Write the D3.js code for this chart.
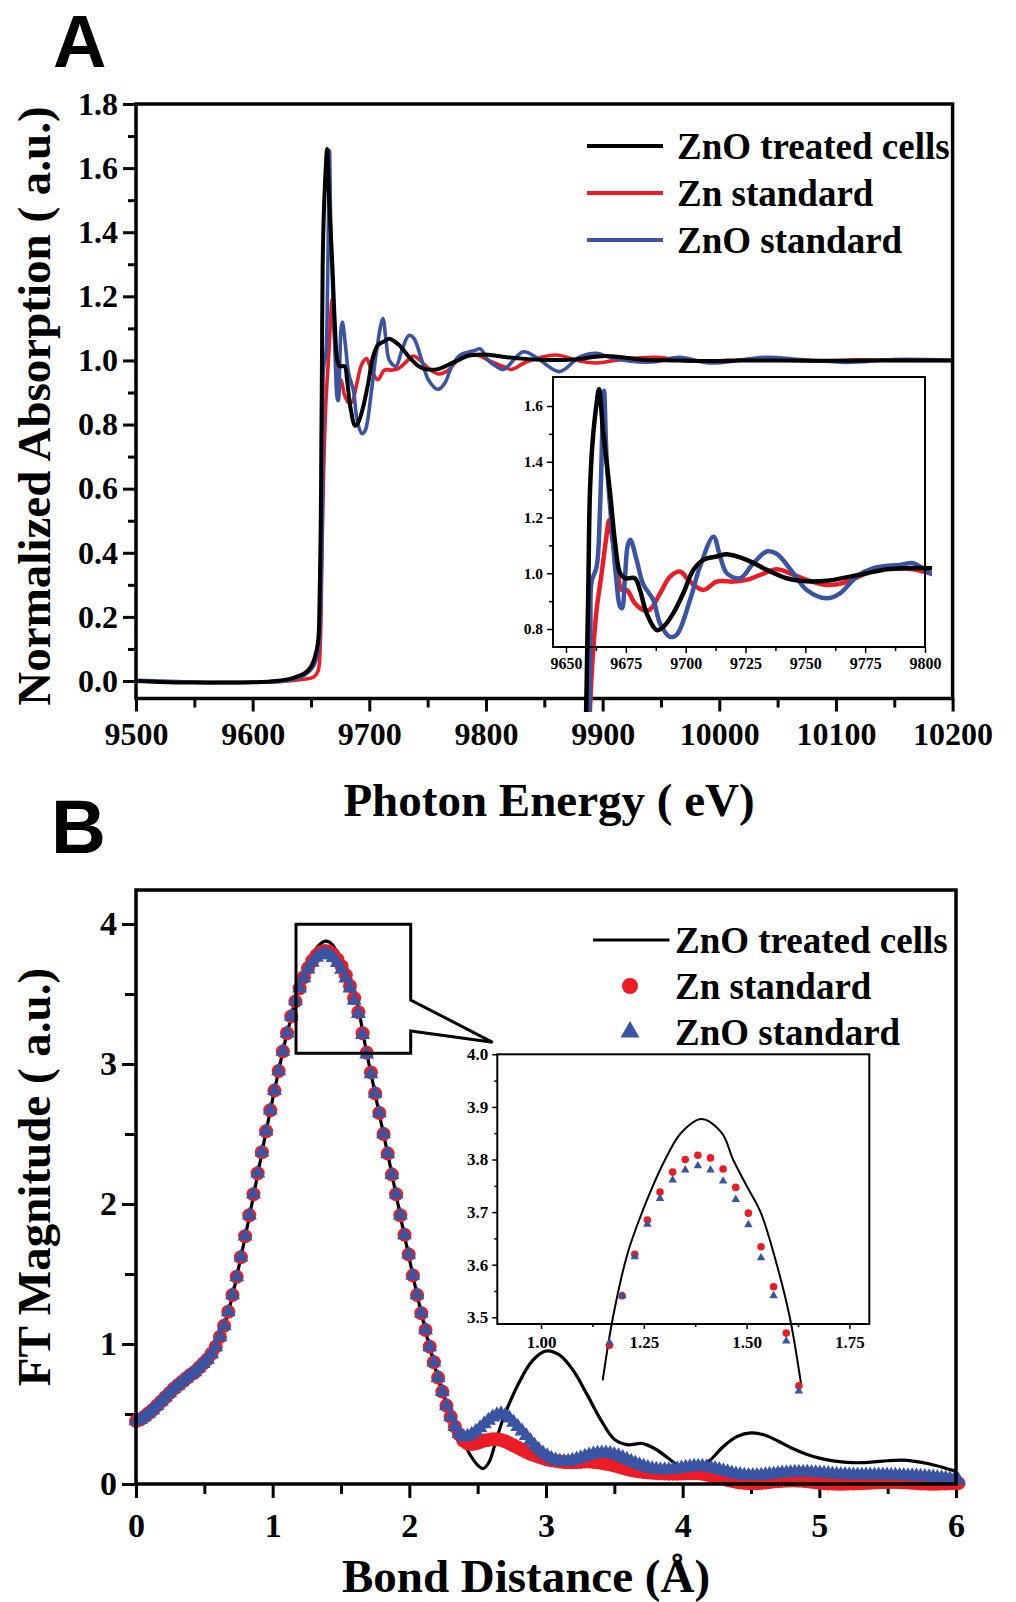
<!DOCTYPE html>
<html><head><meta charset="utf-8">
<script src="https://cdn.jsdelivr.net/npm/d3@7"></script>
<style>
body{margin:0;background:#fff}
svg{display:block}
</style>
</head><body>
<svg id="c" width="1016" height="1602"></svg>
<script>
// ---------------- DATA ----------------
const seriesNames = ["ZnO treated cells", "Zn standard", "ZnO standard"];
const seriesColors = ["#000000", "#ED1C24", "#3A54A4"];

// Panel A : normalized absorption vs photon energy (eV), [E, value]
const aBlack = [[9500,0],[9520,-0.003],[9550,-0.005],[9580,-0.005],[9600,-0.004],[9620,0],[9635,0.01],[9645,0.025],[9650,0.045],[9653,0.07],[9656,0.12],[9657.5,0.28],[9658.4,0.5],[9658.9,0.75],[9659.3,0.93],[9660,1.29],[9661.1,1.47],[9662.8,1.61],[9663.8,1.66],[9665.6,1.5],[9668.4,1.29],[9670.5,1.11],[9672.6,1.0],[9674.7,0.982],[9678.8,0.982],[9680.9,0.94],[9683.7,0.856],[9687.9,0.796],[9690.7,0.808],[9694.8,0.856],[9699,0.928],[9703.2,1.012],[9707.4,1.048],[9713,1.06],[9717.2,1.068],[9725.5,1.048],[9733.9,1.012],[9742.2,0.982],[9747.8,0.973],[9758.9,0.973],[9768.7,0.988],[9775.7,1.0],[9784,1.014],[9792.4,1.018],[9802,1.018],[9818,1.01],[9846,1.002],[9875,1.003],[9903,1.014],[9932,1.003],[9960,1.0],[9990,0.998],[10020,1.0],[10050,1.0],[10100,0.999],[10150,1.0],[10200,1.0]];
const aRed = [[9500,0],[9550,-0.004],[9600,-0.004],[9630,0],[9645,0.006],[9652,0.012],[9656,0.03],[9658,0.12],[9659.2,0.35],[9660,0.51],[9661.1,0.69],[9662.8,0.87],[9664.9,1.0],[9666.7,1.12],[9668,1.19],[9669.1,1.14],[9671.2,1.024],[9673.3,0.94],[9675.4,0.94],[9678.8,0.892],[9682.3,0.868],[9685.1,0.87],[9689.3,0.928],[9693.5,0.988],[9697.6,1.006],[9701.8,0.97],[9707.4,0.94],[9713,0.97],[9719.9,0.97],[9725.5,0.976],[9731.1,0.994],[9738,1.014],[9743.6,1.0],[9750.6,0.976],[9758.9,0.958],[9765.9,0.965],[9772.9,0.99],[9778.4,1.01],[9786.8,1.018],[9795.1,1.014],[9802,1.0],[9814.9,0.981],[9822,0.972],[9835,0.996],[9860,1.017],[9880,0.998],[9895,0.992],[9918,1.004],[9946,1.01],[9975,0.998],[10003,1.0],[10040,1.003],[10080,0.998],[10120,1.002],[10160,1.0],[10200,1.0]];
const aBlue = [[9500,0.002],[9550,-0.003],[9600,-0.004],[9630,0.002],[9645,0.02],[9652,0.045],[9656,0.09],[9658,0.2],[9659,0.35],[9659.7,0.5],[9660.2,0.8],[9660.7,0.97],[9662.8,1.024],[9664.2,1.227],[9665.3,1.55],[9665.9,1.655],[9667,1.407],[9669.1,1.167],[9670.9,0.988],[9672.6,0.88],[9673.4,0.875],[9674.6,0.98],[9675.8,1.1],[9676.9,1.12],[9679.5,1.048],[9682.3,0.96],[9686.5,0.904],[9689.3,0.82],[9693.5,0.772],[9696.3,0.78],[9701.8,0.904],[9706,1.024],[9711.6,1.131],[9714.4,1.06],[9717.2,1.0],[9722.7,0.982],[9728.3,1.036],[9733.9,1.078],[9738,1.07],[9745,1.0],[9750.6,0.94],[9758.9,0.91],[9764.5,0.928],[9771.5,0.988],[9778.4,1.018],[9789.6,1.03],[9795.1,1.036],[9802.1,1.0],[9809,0.981],[9815,0.972],[9832,1.027],[9843,1.01],[9863,0.965],[9880,1.01],[9895,1.022],[9909,1.006],[9943,0.995],[9966,1.01],[9992,0.992],[10040,1.01],[10070,1.003],[10110,0.994],[10150,1.003],[10200,1.0]];

const aXTicks = [9500, 9600, 9700, 9800, 9900, 10000, 10100, 10200];
const aYTicks = [0, 0.2, 0.4, 0.6, 0.8, 1.0, 1.2, 1.4, 1.6, 1.8];
const aInsetXTicks = [9650, 9675, 9700, 9725, 9750, 9775, 9800];
const aInsetYTicks = [0.8, 1.0, 1.2, 1.4, 1.6];

// Panel B : FT magnitude vs bond distance (Å)
const bStep = 0.0307; // marker grid spacing in Å (point i sits at i*bStep)
const bRed = [
0.45,0.46,0.48,0.505,0.53,0.56,0.59,0.62,0.65,0.68,
0.705,0.73,0.755,0.78,0.80,0.83,0.86,0.89,0.93,0.98,
1.05,1.13,1.23,1.35,1.48,1.62,1.77,1.92,2.07,2.22,
2.37,2.52,2.67,2.81,2.95,3.09,3.22,3.34,3.447,3.541,
3.620,3.685,3.738,3.776,3.800,3.808,3.803,3.782,3.747,3.698,
3.634,3.558,3.470,3.370,3.22,3.08,2.94,2.79,2.65,2.50,
2.36,2.21,2.07,1.92,1.78,1.64,1.49,1.35,1.22,1.10,
0.98,0.87,0.76,0.66,0.56,0.48,0.41,0.355,0.31,0.29,
0.285,0.29,0.30,0.31,0.315,0.32,0.32,0.315,0.305,0.29,
0.275,0.26,0.245,0.23,0.215,0.205,0.195,0.185,0.175,0.17,
0.165,0.16,0.157,0.155,0.155,0.156,0.158,0.16,0.16,0.158,
0.155,0.15,0.145,0.14,0.132,0.124,0.115,0.107,0.10,0.094,
0.089,0.085,0.082,0.08,0.078,0.076,0.075,0.074,0.074,0.074,
0.075,0.076,0.077,0.077,0.076,0.073,0.068,0.061,0.053,0.045,
0.037,0.029,0.022,0.016,0.011,0.008,0.006,0.005,0.006,0.008,
0.011,0.014,0.017,0.02,0.022,0.024,0.025,0.025,0.024,0.022,
0.019,0.016,0.012,0.009,0.006,0.004,0.003,0.002,0.002,0.002,
0.003,0.004,0.005,0.006,0.008,0.009,0.011,0.012,0.013,0.014,
0.014,0.014,0.013,0.012,0.01,0.008,0.006,0.004,0.003,0.002,
0.002,0.002,0.003,0.004,0.005,0.006,0.006];
const bBlue = [
0.45,0.46,0.48,0.505,0.53,0.56,0.59,0.62,0.65,0.68,
0.705,0.73,0.755,0.78,0.80,0.83,0.86,0.89,0.93,0.98,
1.05,1.13,1.23,1.35,1.48,1.62,1.77,1.92,2.07,2.22,
2.37,2.52,2.67,2.81,2.95,3.09,3.22,3.34,3.452,3.541,
3.615,3.677,3.726,3.761,3.780,3.788,3.780,3.759,3.724,3.676,
3.613,3.541,3.455,3.36,3.21,3.07,2.93,2.79,2.65,2.50,
2.36,2.21,2.07,1.92,1.78,1.64,1.49,1.35,1.22,1.10,
0.98,0.87,0.76,0.66,0.56,0.48,0.41,0.36,0.335,0.34,
0.355,0.375,0.40,0.43,0.455,0.478,0.493,0.50,0.49,0.47,
0.44,0.41,0.378,0.345,0.31,0.275,0.245,0.22,0.20,0.183,
0.17,0.162,0.16,0.162,0.168,0.177,0.187,0.197,0.206,0.213,
0.218,0.22,0.22,0.217,0.21,0.2,0.188,0.175,0.162,0.149,
0.137,0.126,0.117,0.109,0.104,0.101,0.1,0.101,0.104,0.108,
0.113,0.118,0.122,0.125,0.126,0.125,0.122,0.117,0.11,0.102,
0.094,0.086,0.078,0.071,0.066,0.062,0.06,0.059,0.06,0.062,
0.065,0.068,0.071,0.074,0.077,0.079,0.081,0.082,0.083,0.083,
0.082,0.081,0.079,0.077,0.075,0.073,0.071,0.069,0.067,0.066,
0.065,0.064,0.064,0.064,0.064,0.064,0.064,0.064,0.064,0.063,
0.062,0.061,0.06,0.059,0.058,0.057,0.056,0.055,0.053,0.051,
0.049,0.046,0.043,0.04,0.036,0.032,0.028];
const bBlack = [[0,0.45],[0.1,0.5],[0.2,0.61],[0.3,0.7],[0.4,0.78],[0.5,0.86],[0.55,0.92],[0.6,1.01],[0.65,1.14],[0.7,1.32],[0.75,1.54],[0.8,1.77],[0.85,2.01],[0.9,2.26],[0.95,2.51],[1.0,2.75],[1.05,2.98],[1.1,3.2],[1.15,3.38],[1.175,3.5],[1.21,3.62],[1.246,3.7],[1.275,3.755],[1.302,3.8],[1.34,3.85],[1.39,3.877],[1.44,3.85],[1.467,3.8],[1.5,3.75],[1.534,3.7],[1.57,3.61],[1.605,3.5],[1.633,3.37],[1.68,3.12],[1.73,2.88],[1.8,2.55],[1.85,2.32],[1.9,2.08],[1.95,1.84],[2.0,1.61],[2.05,1.38],[2.1,1.17],[2.15,0.97],[2.2,0.79],[2.25,0.63],[2.3,0.5],[2.35,0.39],[2.4,0.29],[2.45,0.2],[2.5,0.135],[2.54,0.11],[2.58,0.15],[2.62,0.26],[2.66,0.39],[2.7,0.5],[2.8,0.72],[2.9,0.88],[3.0,0.95],[3.1,0.92],[3.2,0.81],[3.3,0.64],[3.4,0.46],[3.5,0.32],[3.6,0.28],[3.7,0.29],[3.8,0.25],[3.9,0.18],[4.0,0.11],[4.1,0.1],[4.2,0.17],[4.3,0.27],[4.4,0.34],[4.5,0.365],[4.6,0.35],[4.7,0.305],[4.8,0.255],[4.9,0.215],[5.0,0.185],[5.1,0.165],[5.2,0.155],[5.3,0.152],[5.4,0.158],[5.5,0.166],[5.6,0.17],[5.7,0.162],[5.8,0.145],[5.9,0.12],[6.0,0.09]];

const bXTicks = [0, 1, 2, 3, 4, 5, 6];
const bYTicks = [0, 1, 2, 3, 4];
const bInsetXTicks = [1.0, 1.25, 1.5, 1.75];
const bInsetYTicks = [3.5, 3.6, 3.7, 3.8, 3.9, 4.0];

// ---------------- DRAWING ----------------
const SERIF = "'Liberation Serif','Times New Roman',serif";
const SANS = "'Liberation Sans',Arial,sans-serif";
const svg = d3.select("#c");
svg.append("rect").attr("width", 1016).attr("height", 1602).attr("fill", "#fff");

function styleAxis(g, fs, sw) {
  g.attr("font-size", null).attr("font-family", null);
  g.select(".domain").remove();
  g.selectAll(".tick line").attr("stroke", "#000").attr("stroke-width", sw);
  g.selectAll(".tick text").attr("font-family", SERIF).attr("font-weight", "bold")
    .attr("font-size", fs).attr("fill", "#000");
}
function minorVals(major, n) {
  const out = [];
  for (let k = 0; k < major.length - 1; k++) {
    const a = major[k], b = major[k + 1];
    for (let j = 1; j < n; j++) out.push(a + (b - a) * j / n);
  }
  return out;
}
function triPath(s) {
  const h = s * Math.sqrt(3) / 2;
  return `M0,${-2 * h / 3}L${s / 2},${h / 3}L${-s / 2},${h / 3}Z`;
}

// ===== Panel A =====
const aX = d3.scaleLinear().domain([9500, 10200]).range([136, 952.6]);
const aY = d3.scaleLinear().domain([0, 1.8]).range([681, 104]);
const aBottom = 698.5;

svg.append("text").attr("x", 53).attr("y", 67).attr("font-family", SANS)
  .attr("font-weight", "bold").attr("font-size", 74).text("A");

// axes
const aYAxis = svg.append("g").attr("transform", "translate(136,0)")
  .call(d3.axisLeft(aY).tickValues(aYTicks).tickSize(13).tickPadding(5).tickFormat(d3.format(".1f")));
styleAxis(aYAxis, 32, 3);
const aYMinor = svg.append("g").attr("transform", "translate(136,0)")
  .call(d3.axisLeft(aY).tickValues(minorVals(aYTicks, 2)).tickSize(8).tickFormat(""));
styleAxis(aYMinor, 32, 3);
const aXAxis = svg.append("g").attr("transform", `translate(0,${aBottom})`)
  .call(d3.axisBottom(aX).tickValues(aXTicks).tickSize(13).tickPadding(11).tickFormat(d3.format("d")));
styleAxis(aXAxis, 32, 3);
const aXMinor = svg.append("g").attr("transform", `translate(0,${aBottom})`)
  .call(d3.axisBottom(aX).tickValues(minorVals(aXTicks, 2)).tickSize(9).tickFormat(""));
styleAxis(aXMinor, 32, 3);

// lines
const aLine = d3.line().x(d => aX(d[0])).y(d => aY(d[1])).curve(d3.curveCatmullRom.alpha(0.5));
const aSeries = [aRed, aBlue, aBlack];
const aCols = [seriesColors[1], seriesColors[2], seriesColors[0]];
aSeries.forEach((s, k) => {
  svg.append("path").datum(s).attr("d", aLine).attr("fill", "none")
    .attr("stroke", aCols[k]).attr("stroke-width", k === 2 ? 4 : 3.6).attr("stroke-linejoin", "round");
});

// frame
svg.append("rect").attr("x", 136).attr("y", 104).attr("width", 952.6 - 136).attr("height", aBottom - 104)
  .attr("fill", "none").attr("stroke", "#000").attr("stroke-width", 3.5);

// legend A
const aLegY = [146, 193, 240];
[0, 1, 2].forEach(k => {
  svg.append("line").attr("x1", 587).attr("x2", 663).attr("y1", aLegY[k]).attr("y2", aLegY[k])
    .attr("stroke", seriesColors[k]).attr("stroke-width", 4);
  svg.append("text").attr("x", 677).attr("y", aLegY[k] + 13).attr("font-family", SERIF)
    .attr("font-weight", "bold").attr("font-size", 37).text(seriesNames[k]);
});

// titles A
svg.append("text").attr("transform", "translate(50,406) rotate(-90)").attr("text-anchor", "middle")
  .attr("font-family", SERIF).attr("font-weight", "bold").attr("font-size", 47).text("Normalized Absorption ( a.u.)");
svg.append("text").attr("x", 549).attr("y", 816).attr("text-anchor", "middle")
  .attr("font-family", SERIF).attr("font-weight", "bold").attr("font-size", 47).text("Photon Energy ( eV)");

// inset A
const iaL = 553, iaR = 925, iaT = 377, iaB = 647;
const iaX = d3.scaleLinear().domain([9650, 9800]).range([566, 925]);
const iaY = d3.scaleLinear().domain([0.8, 1.6]).range([629, 406]);
svg.append("rect").attr("x", iaL).attr("y", iaT).attr("width", iaR - iaL).attr("height", iaB - iaT).attr("fill", "#fff");
const defs = svg.append("defs");
defs.append("clipPath").attr("id", "clipA").append("rect")
  .attr("x", iaL).attr("y", iaT).attr("width", 932 - iaL).attr("height", 712 - iaT);
const iaLine = d3.line().x(d => iaX(d[0])).y(d => iaY(d[1])).curve(d3.curveCatmullRom.alpha(0.5));
const iaG = svg.append("g").attr("clip-path", "url(#clipA)");
aSeries.forEach((s, k) => {
  iaG.append("path").datum(s.filter(d => d[0] >= 9645 && d[0] <= 9820)).attr("d", iaLine).attr("fill", "none")
    .attr("stroke", aCols[k]).attr("stroke-width", 4.5).attr("stroke-linejoin", "round");
});
svg.append("rect").attr("x", iaL).attr("y", iaT).attr("width", iaR - iaL).attr("height", iaB - iaT)
  .attr("fill", "none").attr("stroke", "#000").attr("stroke-width", 2);
const iaYA = svg.append("g").attr("transform", `translate(${iaL},0)`)
  .call(d3.axisLeft(iaY).tickValues(aInsetYTicks).tickSize(6).tickPadding(4).tickFormat(d3.format(".1f")));
styleAxis(iaYA, 15.5, 1.5);
const iaYM = svg.append("g").attr("transform", `translate(${iaL},0)`)
  .call(d3.axisLeft(iaY).tickValues(minorVals(aInsetYTicks, 2)).tickSize(4).tickFormat(""));
styleAxis(iaYM, 15.5, 1.5);
const iaXA = svg.append("g").attr("transform", `translate(0,${iaB})`)
  .call(d3.axisBottom(iaX).tickValues(aInsetXTicks).tickSize(6).tickPadding(5).tickFormat(d3.format("d")));
styleAxis(iaXA, 16, 1.5);
const iaXM = svg.append("g").attr("transform", `translate(0,${iaB})`)
  .call(d3.axisBottom(iaX).tickValues(minorVals(aInsetXTicks, 2)).tickSize(4).tickFormat(""));
styleAxis(iaXM, 16, 1.5);

// ===== Panel B =====
const bX = d3.scaleLinear().domain([0, 6]).range([136, 956]);
const bY = d3.scaleLinear().domain([0, 4]).range([1484, 924]);
const bTop = 890;

svg.append("text").attr("x", 51).attr("y", 853).attr("font-family", SANS)
  .attr("font-weight", "bold").attr("font-size", 76).text("B");

const bYA = svg.append("g").attr("transform", "translate(136,0)")
  .call(d3.axisLeft(bY).tickValues(bYTicks).tickSize(14).tickPadding(5).tickFormat(d3.format("d")));
styleAxis(bYA, 34, 3);
const bYM = svg.append("g").attr("transform", "translate(136,0)")
  .call(d3.axisLeft(bY).tickValues(minorVals(bYTicks, 2)).tickSize(11).tickFormat(""));
styleAxis(bYM, 34, 3);
const bXA = svg.append("g").attr("transform", "translate(0,1484)")
  .call(d3.axisBottom(bX).tickValues(bXTicks).tickSize(14).tickPadding(15).tickFormat(d3.format("d")));
styleAxis(bXA, 34, 3);
const bXM = svg.append("g").attr("transform", "translate(0,1484)")
  .call(d3.axisBottom(bX).tickValues(minorVals(bXTicks, 2)).tickSize(10).tickFormat(""));
styleAxis(bXM, 34, 3);

const bLine = d3.line().x(d => bX(d[0])).y(d => bY(d[1])).curve(d3.curveCatmullRom.alpha(0.5));
svg.append("path").datum(bBlack).attr("d", bLine).attr("fill", "none")
  .attr("stroke", "#000").attr("stroke-width", 3.2).attr("stroke-linejoin", "round");

const redPts = bRed.map((v, i) => [i * bStep, v]);
const bluePts = bBlue.map((v, i) => [i * bStep, v]);
svg.append("g").selectAll("circle").data(redPts).join("circle")
  .attr("cx", d => bX(d[0])).attr("cy", d => bY(d[1])).attr("r", 7).attr("fill", seriesColors[1]);
svg.append("g").selectAll("path").data(bluePts).join("path")
  .attr("transform", d => `translate(${bX(d[0])},${bY(d[1])})`).attr("d", triPath(15))
  .attr("fill", seriesColors[2]);

// frame B
svg.append("rect").attr("x", 136).attr("y", bTop).attr("width", 956 - 136).attr("height", 1484 - bTop)
  .attr("fill", "none").attr("stroke", "#000").attr("stroke-width", 3.5);

// zoom callout
svg.append("path")
  .attr("d", "M410.7,1000 L410.7,924.3 L296,924.3 L296,1053.3 L410.7,1053.3 L410.7,1031 L492.7,1042.3 Z")
  .attr("fill", "none").attr("stroke", "#000").attr("stroke-width", 3).attr("stroke-linejoin", "miter");

// legend B
const bLegY = [940, 986, 1032];
svg.append("line").attr("x1", 593).attr("x2", 669.5).attr("y1", bLegY[0]).attr("y2", bLegY[0])
  .attr("stroke", "#000").attr("stroke-width", 3.2);
svg.append("circle").attr("cx", 630).attr("cy", bLegY[1]).attr("r", 8).attr("fill", seriesColors[1]);
svg.append("path").attr("transform", `translate(630,${bLegY[2]})`).attr("d", triPath(19)).attr("fill", seriesColors[2]);
[0, 1, 2].forEach(k => {
  svg.append("text").attr("x", 675).attr("y", bLegY[k] + 13).attr("font-family", SERIF)
    .attr("font-weight", "bold").attr("font-size", 37).text(seriesNames[k]);
});

// titles B
svg.append("text").attr("transform", "translate(50,1177) rotate(-90)").attr("text-anchor", "middle")
  .attr("font-family", SERIF).attr("font-weight", "bold").attr("font-size", 47).text("FT Magnitude ( a.u.)");
svg.append("text").attr("x", 526).attr("y", 1592).attr("text-anchor", "middle")
  .attr("font-family", SERIF).attr("font-weight", "bold").attr("font-size", 47).text("Bond Distance (Å)");

// inset B
const ibL = 497.3, ibR = 869.3, ibT = 1054.3, ibB = 1324;
const ibX = d3.scaleLinear().domain([1.0, 1.75]).range([541, 849.4]);
const ibY = d3.scaleLinear().domain([3.5, 4.0]).range([1317.3, 1054.3]);
svg.append("rect").attr("x", ibL).attr("y", ibT).attr("width", ibR - ibL).attr("height", ibB - ibT).attr("fill", "#fff");
const ibLine = d3.line().x(d => ibX(d[0])).y(d => ibY(d[1])).curve(d3.curveCatmullRom.alpha(0.5));
svg.append("path").datum(bBlack.filter(d => d[0] >= 1.14 && d[0] <= 1.64)).attr("d", ibLine)
  .attr("fill", "none").attr("stroke", "#000").attr("stroke-width", 2);
const inWin = d => d[0] >= 1.15 && d[0] <= 1.64;
svg.append("g").selectAll("circle").data(redPts.filter(inWin)).join("circle")
  .attr("cx", d => ibX(d[0])).attr("cy", d => ibY(d[1])).attr("r", 3.8).attr("fill", seriesColors[1]);
svg.append("g").selectAll("path").data(bluePts.filter(inWin)).join("path")
  .attr("transform", d => `translate(${ibX(d[0])},${ibY(d[1])})`).attr("d", triPath(8.5))
  .attr("fill", seriesColors[2]);
svg.append("rect").attr("x", ibL).attr("y", ibT).attr("width", ibR - ibL).attr("height", ibB - ibT)
  .attr("fill", "none").attr("stroke", "#000").attr("stroke-width", 2);
const ibYA = svg.append("g").attr("transform", `translate(${ibL},0)`)
  .call(d3.axisLeft(ibY).tickValues(bInsetYTicks).tickSize(5).tickPadding(4).tickFormat(d3.format(".1f")));
styleAxis(ibYA, 17, 1.5);
const ibYM = svg.append("g").attr("transform", `translate(${ibL},0)`)
  .call(d3.axisLeft(ibY).tickValues(minorVals(bInsetYTicks, 2)).tickSize(3).tickFormat(""));
styleAxis(ibYM, 17, 1.5);
const ibXA = svg.append("g").attr("transform", `translate(0,${ibB})`)
  .call(d3.axisBottom(ibX).tickValues(bInsetXTicks).tickSize(5).tickPadding(7).tickFormat(d3.format(".2f")));
styleAxis(ibXA, 17, 1.5);
const ibXM = svg.append("g").attr("transform", `translate(0,${ibB})`)
  .call(d3.axisBottom(ibX).tickValues(minorVals(bInsetXTicks, 2)).tickSize(3).tickFormat(""));
styleAxis(ibXM, 17, 1.5);
</script>
</body></html>
